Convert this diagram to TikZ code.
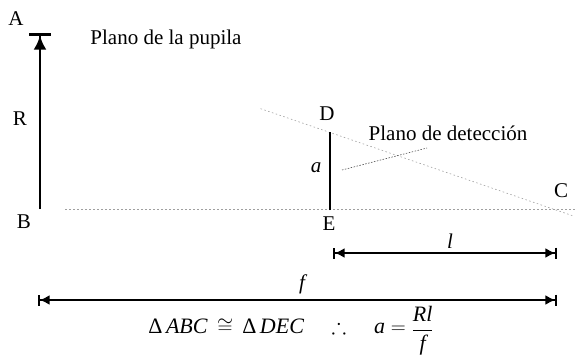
\documentclass[tikz,border=0pt]{standalone}
\usepackage{amsmath,amssymb}
\usepackage{fontspec}
\setmainfont{Liberation Serif}
\usetikzlibrary{arrows.meta,calc}
\begin{document}
\begin{tikzpicture}[x=1pt,y=-1pt,
  lbl/.style={anchor=base,inner sep=0pt,font=\fontsize{21}{24}\selectfont},
  faint/.style={gray!75,line width=0.6pt,dash pattern=on 1.5pt off 2.5pt},
  dimline/.style={line width=1.7pt,
    {Bar[width=11pt] Latex[length=10pt,width=10pt]}-{Latex[length=10pt,width=10pt] Bar[width=11pt]}},
  thickline/.style={line width=2.4pt}]
\useasboundingbox (0,0) rectangle (577,361);
% points
\coordinate (A) at (40,33);
\coordinate (B) at (40,209);
\coordinate (D) at (330,132);
\coordinate (E) at (330,210);
\coordinate (C) at (553,209);
\coordinate (H1) at (65,209);
\coordinate (H2) at (577,209);
\coordinate (L1) at (342,170);
\coordinate (L2) at (427,148);
\coordinate (l1) at (333,253);
\coordinate (l2) at (557,253);
\coordinate (f1) at (38,300);
\coordinate (f2) at (557,300);
% guide lines
\draw[faint] (H1) -- (H2);
\draw[faint] ($(A)!0.43!(C)$) -- ($(A)!1.04!(C)$);
\draw[gray!60!black,line width=0.6pt,dash pattern=on 1.5pt off 1.5pt] (L1) -- (L2);
% pupil
\draw[line width=2.6pt,-{Latex[length=14pt,width=13pt] Bar[width=22pt,line width=2.6pt]}] (B) -- (A);
% detector
\draw[thickline] (E) -- (D);
% dimensions
\draw[dimline] (l1) -- (l2);
\draw[dimline] (f1) -- (f2);
% labels
\node[lbl] (tA) at (16,26) {A};
\node[lbl] (tR) at (20,125) {R};
\node[lbl] (tB) at (24,228) {B};
\node[lbl] (tD) at (327,120) {D};
\node[lbl] (tE) at (329,230) {E};
\node[lbl] (ta) at (316,172) {\itshape a};
\node[lbl] (tC) at (561,197) {C};
\node[lbl] (tl) at (450,248) {\itshape l};
\node[lbl] (tf) at (302,289) {\itshape f};
\node[lbl] (pup) at (166,45) {Plano de la pupila};
\node[lbl] (det) at (448,140) {Plano de detección};
\node[anchor=base,inner sep=0pt,font=\fontsize{22}{26}\selectfont] (eq) at (291,333)
  {$\text{Δ}\,\textit{ABC\/}\,\cong\,\text{Δ}\,\textit{DEC}\quad\therefore\quad\textit{a}=\raisebox{-3pt}{$\dfrac{\textit{Rl}}{\textit{f}}$}$};
\end{tikzpicture}
\end{document}
